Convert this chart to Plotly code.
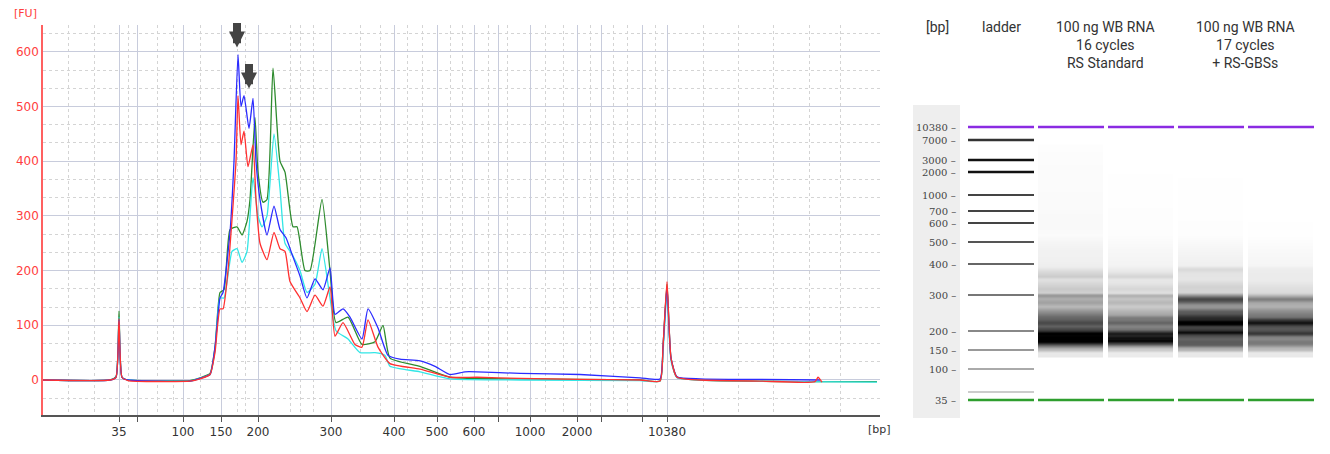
import numpy as np
import plotly.graph_objects as go

# ---------------- data ----------------
# electropherogram: migration position (chart units) and fluorescence [FU]
base_x = [43, 110, 116, 119, 122, 128, 190, 200, 210]
base_blue = [0, 0, 5, 110, 5, 0, -2, 3, 10]
base_red = [0, 0, 5, 112, 5, -1, -2, 2, 10]
base_green = [0, 0, 6, 126, 5, 0, -1, 4, 12]
base_cyan = [0, 0, 5, 115, 5, 0, -2, 3, 10]

blue_x = [215, 220, 223, 230, 234, 238, 241, 244, 249, 253, 256, 260, 267, 274, 280, 286, 292, 300, 307, 315, 323, 330, 335, 343, 350, 362, 368, 378, 388, 400, 420, 435, 450, 465, 477, 520, 580, 640, 660, 663, 667, 671, 677, 700, 760, 820]
blue_y = [60, 150, 160, 270, 400, 595, 500, 520, 460, 515, 400, 330, 265, 318, 275, 260, 230, 190, 150, 185, 165, 205, 120, 130, 115, 75, 130, 95, 45, 38, 35, 25, 10, 15, 15, 12, 10, 4, 2, 60, 170, 40, 6, 2, 1, 0]
red_x = [215, 220, 223, 228, 236, 238, 241, 244, 248, 253, 256, 260, 267, 274, 280, 285, 290, 300, 307, 315, 323, 330, 335, 343, 355, 362, 368, 378, 390, 420, 450, 477, 520, 580, 640, 660, 663, 667, 671, 677, 700, 760, 815, 818, 822]
red_y = [50, 130, 130, 200, 400, 520, 430, 455, 390, 430, 330, 250, 220, 270, 240, 235, 180, 150, 125, 155, 135, 170, 80, 105, 65, 60, 110, 60, 30, 20, 5, 5, 3, 1, 0, -2, 60, 180, 40, 5, 0, -2, -3, 5, -4]
green_x = [215, 220, 224, 230, 237, 242, 247, 250, 255, 258, 263, 267, 273, 280, 285, 293, 297, 305, 310, 322, 330, 336, 348, 362, 375, 383, 390, 420, 450, 520, 640, 660, 663, 667, 671, 677, 700, 800, 877]
green_y = [60, 160, 165, 275, 280, 265, 290, 330, 480, 380, 325, 330, 570, 400, 380, 280, 280, 200, 200, 330, 200, 105, 115, 65, 70, 100, 40, 25, 5, 2, 0, -2, 60, 175, 40, 5, 0, -3, -3]
cyan_x = [215, 220, 224, 232, 237, 242, 247, 253, 258, 262, 267, 274, 280, 285, 292, 300, 307, 315, 322, 330, 336, 348, 360, 375, 385, 390, 420, 450, 520, 640, 660, 663, 667, 671, 677, 700, 800, 877]
cyan_y = [55, 150, 150, 235, 240, 215, 235, 370, 300, 280, 300, 450, 350, 250, 230, 200, 160, 175, 240, 150, 90, 75, 50, 50, 45, 25, 15, 2, 0, -1, -2, 50, 160, 35, 4, 0, -3, -4]

# size-axis tick labels and their migration positions
tick_labels = ["35", "100", "150", "200", "300", "400", "500", "600", "1000", "2000", "10380"]
tick_pos = [119, 183, 221, 258, 331, 394, 437, 474, 530, 577, 667]
extra_ticks = [137, 498, 601, 642]
minor_pos = [68, 94, 128, 157, 173, 200, 237, 245, 290, 300, 313, 360, 380, 407, 422, 450, 462, 488, 507, 545, 563, 590, 613, 627, 655, 703, 738, 773, 809, 840]

# gel: ladder sizes and their gel positions
ladder_bp = ["10380", "7000", "3000", "2000", "1000", "700", "600", "500", "400", "300", "200", "150", "100", "35"]
ladder_gel_y = [127, 140, 160, 172, 195, 211, 223, 242, 264, 295, 331, 350, 369, 400]
ladder_shade = ["#8a2be2", "#333333", "#111111", "#111111", "#444444", "#444444", "#444444", "#555555", "#666666", "#777777", "#888888", "#999999", "#aaaaaa", "#2e9e2e"]
faint_band_y = 392
anchor_gel_y = [400, 369, 350, 331, 295, 264, 242, 223, 195, 172, 127]
anchor_ep_x = tick_pos

lane_names = ["100 ng WB RNA<br>16 cycles<br>RS Standard", "100 ng WB RNA<br>17 cycles<br>+ RS-GBSs"]

# ---------------- figure ----------------
W, H = 1330, 454
OX, OY = 8, 8  # page offset of the plot in the browser
def fx(px):
    return (px - OX) / W
def fy(py):
    return 1 - (py - OY) / H

fig = go.Figure()

for (x, y, c, b) in [(green_x, green_y, "#2e8b2e", base_green), (cyan_x, cyan_y, "#33e6e6", base_cyan),
                     (blue_x, blue_y, "#2b2bff", base_blue), (red_x, red_y, "#ff3030", base_red)]:
    fig.add_trace(go.Scatter(x=base_x + x, y=b + y, mode="lines",
                             line=dict(color=c, width=1.3, shape="spline", smoothing=0.5),
                             hoverinfo="skip", showlegend=False, xaxis="x", yaxis="y"))

gy = np.arange(112, 412, 1.0)
ep = np.interp(gy, anchor_gel_y[::-1], anchor_ep_x[::-1])
def lane(xs, ys):
    v = np.interp(ep, xs, ys)
    v[(gy > 357) | (gy < 145)] = 0
    return np.clip(v, 0, None)
lanes = [lane(blue_x, blue_y), lane(red_x, red_y), lane(green_x, green_y), lane(cyan_x, cyan_y)]
z = np.array(lanes).T
fig.add_trace(go.Heatmap(x=[1071, 1141, 1211, 1281], y=gy, z=z, xgap=5, zmin=0, zmax=480,
                         colorscale=[[0, "#ffffff"], [0.25, "#d0d0d0"], [0.6, "#555555"], [1, "#000000"]],
                         showscale=False, hoverinfo="skip", xaxis="x2", yaxis="y2"))

fig.update_layout(
    width=W, height=H, margin=dict(l=0, r=0, t=0, b=0), plot_bgcolor="white", paper_bgcolor="white",
    font=dict(family="DejaVu Sans", size=12, color="#333"),
    xaxis=dict(domain=[fx(43), fx(880)], range=[43, 880], tickvals=tick_pos + extra_ticks,
               ticktext=tick_labels + [""] * len(extra_ticks), ticks="outside", ticklen=5, tickcolor="#555",
               showgrid=True, gridcolor="#c8ccdc", gridwidth=1, showline=True, linecolor="#555", linewidth=1.5,
               zeroline=False, anchor="y",
               minor=dict(tickvals=minor_pos, showgrid=True, gridcolor="#d4d4d4", griddash="dot", ticks="")),
    yaxis=dict(domain=[fy(415), fy(25)], range=[-64, 649], tickvals=[0, 100, 200, 300, 400, 500, 600],
               tickfont=dict(color="#ff4040", size=12), showgrid=True, gridcolor="#c8ccdc", showline=True,
               linecolor="#ff6060", linewidth=1.5, zeroline=False, ticks="", anchor="x",
               minor=dict(dtick=100 / 3, showgrid=True, gridcolor="#d4d4d4", griddash="dot")),
    xaxis2=dict(domain=[fx(913), fx(1318)], range=[913, 1318], visible=False, anchor="y2"),
    yaxis2=dict(domain=[fy(418), fy(105)], range=[418, 105], visible=False, anchor="x2"),
)

shapes = []
shapes.append(dict(type="rect", xref="x2", yref="y2", x0=913, x1=960, y0=105, y1=418, fillcolor="#eeeeee", line_width=0, layer="below"))
for yv, col in zip(ladder_gel_y, ladder_shade):
    w = 2.5 if col in ("#111111", "#333333", "#8a2be2", "#2e9e2e") else 2
    shapes.append(dict(type="line", xref="x2", yref="y2", x0=968, x1=1034, y0=yv, y1=yv, line=dict(color=col, width=w)))
shapes.append(dict(type="line", xref="x2", yref="y2", x0=968, x1=1034, y0=faint_band_y, y1=faint_band_y, line=dict(color="#bbbbbb", width=1.5)))
for cx in [1071, 1141, 1211, 1281]:
    for yv, col in [(127, "#8a2be2"), (400, "#2e9e2e")]:
        shapes.append(dict(type="line", xref="x2", yref="y2", x0=cx - 33, x1=cx + 33, y0=yv, y1=yv, line=dict(color=col, width=2.5)))
fig.update_layout(shapes=shapes)

ann = []
ann.append(dict(text="[FU]", xref="paper", yref="paper", x=fx(12), y=fy(22), showarrow=False, xanchor="left", yanchor="bottom", font=dict(color="#ff4040", size=11)))
ann.append(dict(text="[bp]", xref="paper", yref="paper", x=fx(893), y=fy(421), showarrow=False, xanchor="right", yanchor="top", font=dict(size=11)))
for xv, yv in [(237, 600), (249, 525)]:
    ann.append(dict(x=xv, y=yv + 8, xref="x", yref="y", ax=0, ay=-26, showarrow=True, arrowhead=2, arrowsize=0.4,
                    arrowwidth=8, arrowcolor="#444", text=""))
for lab, yv in zip(ladder_bp, ladder_gel_y):
    ann.append(dict(text=lab + " –", xref="x2", yref="y2", x=958, y=yv, showarrow=False, xanchor="right",
                    font=dict(size=10, color="#444", family="DejaVu Serif")))
hf = dict(family="Roboto", size=14, color="#333")
ann.append(dict(text="[bp]", xref="x2", yref="paper", x=937, y=fy(17), showarrow=False, yanchor="top", font=hf))
ann.append(dict(text="ladder", xref="x2", yref="paper", x=1001, y=fy(17), showarrow=False, yanchor="top", font=hf))
for cx, name in zip([1105, 1245], lane_names):
    ann.append(dict(text=name, xref="x2", yref="paper", x=cx, y=fy(17), showarrow=False, yanchor="top", font=hf))
fig.update_layout(annotations=ann)

fig.write_html("out.html")
